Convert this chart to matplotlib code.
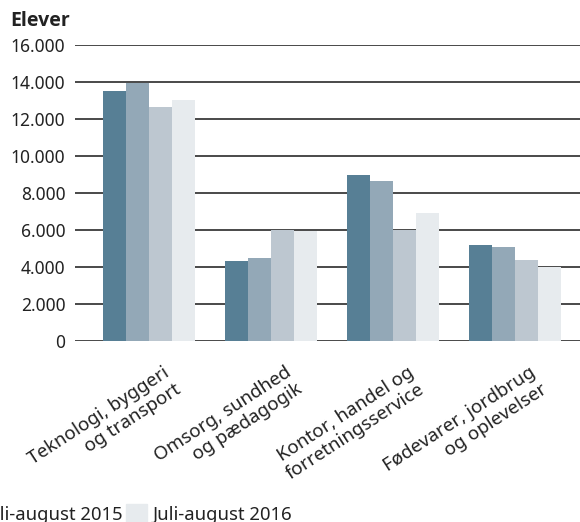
import matplotlib
matplotlib.use("Agg")
import matplotlib.pyplot as plt
import matplotlib.patches as mpatches
import numpy as np

# data
categories = ["Teknologi, byggeri\nog transport",
              "Omsorg, sundhed\nog pædagogik",
              "Kontor, handel og\nforretningsservice",
              "Fødevarer, jordbrug\nog oplevelser"]
series_labels = ["Juli-august 2013", "Juli-august 2014",
                 "Juli-august 2015", "Juli-august 2016"]
v2013 = [13500, 4330, 9000, 5200]
v2014 = [13950, 4500, 8650, 5100]
v2015 = [12650, 6000, 6000, 4400]
v2016 = [13050, 5950, 6900, 4000]
yticks = [0, 2000, 4000, 6000, 8000, 10000, 12000, 14000, 16000]

colors = ["#577f95", "#93a8b7", "#bdc7d0", "#e7ebee"]
plt.rcParams['font.family'] = ['Noto Sans', 'DejaVu Sans']

fig = plt.figure(figsize=(5.8, 5.22), dpi=100)
ax = fig.add_axes([75/580, 1 - 341/522, 1 - 75/580, (341 - 45)/522])

x = np.arange(len(categories))
w = 0.188
all_vals = [v2013, v2014, v2015, v2016]
for k, vals in enumerate(all_vals):
    ax.bar(x + (k - 1.5) * w, vals, width=w, color=colors[k], zorder=3,
           label=series_labels[k])

ax.set_ylim(0, 16000)
ax.set_xlim(-0.607, 3.53)
ax.set_yticks(yticks)
ax.set_yticklabels([f"{t:,}".replace(",", ".") for t in yticks], fontsize=12.5,
                   color="#222222")
ax.tick_params(axis="y", length=0, pad=7)
ax.tick_params(axis="x", length=0, labelbottom=False)
for t in yticks:
    ax.axhline(t, color="#3a3a3a", lw=1.3, zorder=1)
for s in ax.spines.values():
    s.set_visible(False)

# rotated category labels (lines right-aligned)
for i, c in enumerate(categories):
    ax.annotate(c, xy=(i, 0), xycoords=("data", "axes fraction"),
                xytext=(10, -16), textcoords="offset points",
                rotation=33, rotation_mode="anchor", ha="right", va="top",
                multialignment="right", fontsize=13.5, color="#222222",
                linespacing=1.15)

fig.text(10/580, 1 - 26/522, "Elever", fontsize=14, fontweight="bold",
         family="Open Sans", color="#222222", va="baseline")

handles = [mpatches.Patch(color=c) for c in colors]
fig.legend(handles, series_labels, ncol=4, loc="lower right",
           bbox_to_anchor=(292/580, -0.004), frameon=False, fontsize=13.3,
           handlelength=1.15, handleheight=1.2, handletextpad=0.3,
           columnspacing=0.15, borderpad=0, borderaxespad=0,
           labelcolor="#222222")

fig.savefig("out.png", dpi=100)
